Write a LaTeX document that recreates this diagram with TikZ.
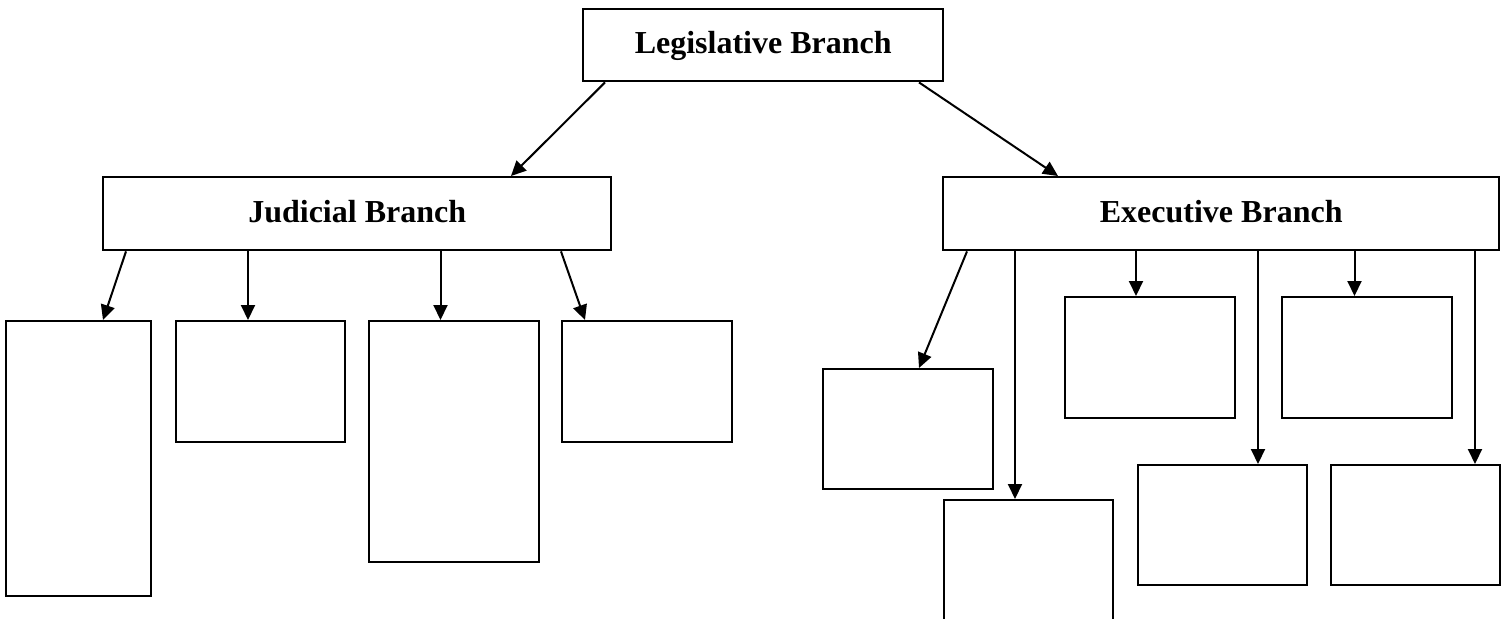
\documentclass[tikz,border=0pt]{standalone}
\usepackage{fontspec}
\setmainfont{Liberation Serif}
\usepackage{tikz}
\usetikzlibrary{positioning,arrows.meta}

\begin{document}
\begin{tikzpicture}[
        x=0.5pt, y=-0.5pt,
        branch/.style={rectangle, draw=black, line width=1.2pt, anchor=north west,
                       minimum height=36.5pt, text depth=0.25em,
                       font=\fontsize{16}{19}\selectfont\bfseries},
        blank/.style={rectangle, draw=black, line width=1.2pt, anchor=north west,
                      minimum width=85pt, minimum height=60.5pt},
        arrow/.style={-{Triangle[length=7.5pt,width=7pt]}, line width=1pt, black}
    ]
        \useasboundingbox (0,0) rectangle (1501,618);
        \clip (0,0) rectangle (1501,618);

        % three branches
        \node[branch, minimum width=180pt, minimum height=36pt] (legis) at (582,8) {Legislative Branch};
        \node[branch, minimum width=254pt] (judicial) at (102,176) {Judicial Branch};
        \node[branch, minimum width=278pt] (exec) at (942,176) {Executive Branch};

        % empty boxes under Judicial Branch
        \node[blank, minimum width=72.5pt, minimum height=137.5pt] (j1) at (5,320) {};
        \node[blank, minimum width=84.5pt] (j2) at (175,320) {};
        \node[blank, minimum height=120.5pt] (j3) at (368,320) {};
        \node[blank] (j4) at (561,320) {};

        % empty boxes under Executive Branch
        \node[blank, minimum height=60pt] (e1) at (822,368) {};
        \node[blank, minimum width=84.5pt, minimum height=80pt] (e2) at (943,499) {};
        \node[blank] (e3) at (1064,296) {};
        \node[blank, minimum width=84.5pt, minimum height=60pt] (e4) at (1137,464) {};
        \node[blank] (e5) at (1281,296) {};
        \node[blank, minimum width=84.5pt, minimum height=60pt] (e6) at (1330,464) {};

        % arrow ends on the box tops
        \coordinate (t2) at ([xshift=36.5pt]j2.north west);
        \coordinate (t3) at ([xshift=36.25pt]j3.north west);
        \coordinate (s2) at ([xshift=36pt]e2.north west);
        \coordinate (s3) at ([xshift=36pt]e3.north west);
        \coordinate (s4) at ([xshift=60.5pt]e4.north west);
        \coordinate (s5) at ([xshift=36.75pt]e5.north west);
        \coordinate (s6) at ([xshift=72.5pt]e6.north west);

        % arrows
        \draw[arrow] ([xshift=11.5pt]legis.south west) -- ([xshift=204.5pt]judicial.north west);
        \draw[arrow] ([xshift=168.5pt]legis.south west) -- ([xshift=58pt]exec.north west);

        \draw[arrow] ([xshift=12pt]judicial.south west) -- ([xshift=49pt]j1.north west);
        \draw[arrow] (t2 |- judicial.south) -- (t2);
        \draw[arrow] (t3 |- judicial.south) -- (t3);
        \draw[arrow] ([xshift=229.5pt]judicial.south west) -- ([xshift=12pt]j4.north west);

        \draw[arrow] ([xshift=12.5pt]exec.south west) -- ([xshift=48.5pt]e1.north west);
        \draw[arrow] (s2 |- exec.south) -- (s2);
        \draw[arrow] (s3 |- exec.south) -- (s3);
        \draw[arrow] (s4 |- exec.south) -- (s4);
        \draw[arrow] (s5 |- exec.south) -- (s5);
        \draw[arrow] (s6 |- exec.south) -- (s6);
    \end{tikzpicture}
\end{document}
